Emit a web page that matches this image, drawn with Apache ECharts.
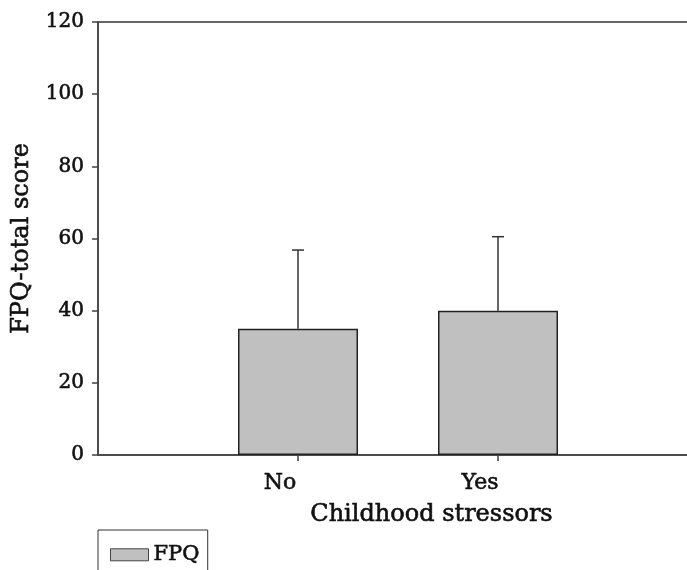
<!DOCTYPE html>
<html>
<head>
<meta charset="utf-8">
<script src="https://cdn.jsdelivr.net/npm/echarts@6/dist/echarts.min.js"></script>
<style>html,body{margin:0;padding:0;background:#fff;}#c{width:687px;height:570px;}</style>
</head>
<body>
<div id="c"></div>
<script>
var categories = ['', 'No', 'Yes', ''];
var means = [null, 35, 40, null];
var sds = [null, 21.8, 20.5, null];
var yTicks = { min: 0, max: 120, interval: 20 };
var seriesName = 'FPQ';
var xTitle = 'Childhood stressors';
var yTitle = 'FPQ-total score';

var FONT = 'DejaVu Serif';
var TB = { textBorderColor: '#111', textBorderWidth: 0.6 };
var errData = [];
for (var i = 0; i < categories.length; i++) {
  if (means[i] != null) errData.push([i, means[i], means[i] + sds[i]]);
}

var chart = echarts.init(document.getElementById('c'), null, { renderer: 'canvas' });
chart.setOption({
  animation: false,
  backgroundColor: '#fff',
  grid: { left: 98, top: 22, width: 600, height: 433, show: true, borderColor: '#333', borderWidth: 1.5,
    backgroundColor: 'transparent', containLabel: false, outerBoundsMode: 'none' },
  legend: {
    data: [seriesName], left: 98, top: 530, orient: 'horizontal',
    borderColor: '#333', borderWidth: 1, padding: [14, 8, 30, 12],
    itemWidth: 38, itemHeight: 12, icon: 'rect',
    itemStyle: { borderColor: '#444', borderWidth: 1 },
    textStyle: Object.assign({ fontFamily: FONT, fontSize: 21, color: '#111' }, TB)
  },
  xAxis: {
    type: 'category', data: categories, boundaryGap: false,
    axisLine: { lineStyle: { color: '#444', width: 1.5 } },
    axisTick: { show: true, length: 6, lineStyle: { color: '#444', width: 1.5 },
      interval: function (idx, val) { return val !== ''; } },
    axisLabel: Object.assign({ fontFamily: FONT, fontSize: 22, color: '#111', margin: 17, interval: 0,
      padding: [0, 36, 0, 0] }, TB),
    splitLine: { show: false }
  },
  yAxis: {
    type: 'value', min: yTicks.min, max: yTicks.max, interval: yTicks.interval,
    name: yTitle, nameLocation: 'middle', nameGap: 64, nameRotate: 90,
    nameTextStyle: Object.assign({ fontFamily: FONT, fontSize: 24, color: '#111' }, TB),
    axisLine: { show: true, lineStyle: { color: '#444', width: 1.5 } },
    axisTick: { show: true, length: 6, lineStyle: { color: '#444', width: 1.5 } },
    axisLabel: Object.assign({ fontFamily: FONT, fontSize: 20, color: '#111', margin: 14 }, TB),
    splitLine: { show: false }
  },
  graphic: [{
    type: 'text', left: 310, top: 502,
    style: { text: xTitle, fontFamily: FONT, fontSize: 24, fill: '#111', stroke: '#111', lineWidth: 0.6 }
  }],
  series: [{
    name: seriesName, type: 'bar', data: means, barWidth: 120,
    itemStyle: { color: '#c0c0c0', borderColor: '#222', borderWidth: 1.5 }
  }, {
    name: 'err', type: 'custom', data: errData, z: 1,
    renderItem: function (params, api) {
      var x = api.value(0);
      var p0 = api.coord([x, api.value(1)]);
      var p1 = api.coord([x, api.value(2)]);
      var cap = 6;
      return { type: 'group', children: [
        { type: 'line', shape: { x1: p0[0], y1: p0[1], x2: p1[0], y2: p1[1] }, style: { stroke: '#333', lineWidth: 1.5 } },
        { type: 'line', shape: { x1: p1[0] - cap, y1: p1[1], x2: p1[0] + cap, y2: p1[1] }, style: { stroke: '#333', lineWidth: 1.5 } }
      ] };
    }
  }]
});
</script>
</body>
</html>
